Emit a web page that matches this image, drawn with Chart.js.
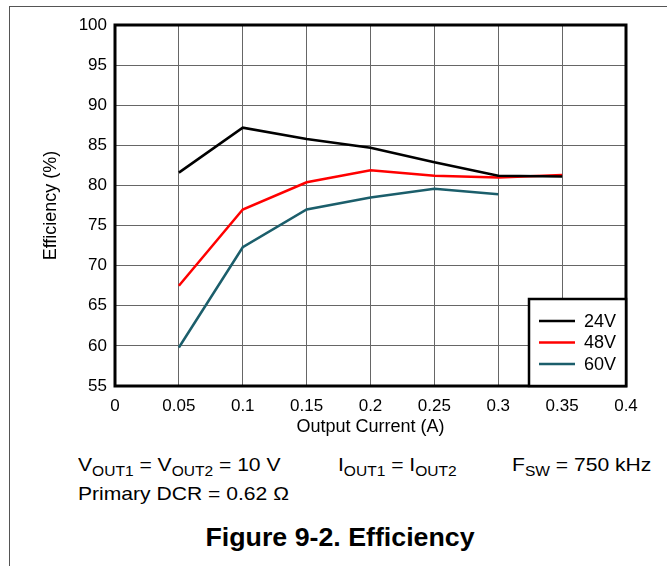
<!DOCTYPE html>
<html>
<head>
<meta charset="utf-8">
<script src="https://cdn.jsdelivr.net/npm/chart.js@4"></script>
<style>
  html, body { margin: 0; padding: 0; background: #fff; }
  body { width: 667px; height: 566px; position: relative; overflow: hidden;
         font-family: "Liberation Sans", Arial, sans-serif; color: #000; }
  #frame { position: absolute; left: 9px; top: 6px; right: -2px; bottom: -2px;
           border-top: 1px solid #555; border-left: 1px solid #555; }
  #wrap { position: absolute; left: 0; top: 0; width: 667px; height: 440px; }
  .note { position: absolute; font-size: 19px; line-height: 22px; white-space: nowrap;
          transform: scaleX(1.11); transform-origin: left center; }
  .note sub { font-size: 14px; vertical-align: -5px; line-height: 0; }
  #caption { position: absolute; left: 0; width: 680px; top: 522px; text-align: center;
             font-weight: bold; font-size: 25px; line-height: 30px;
             transform: scaleX(1.07); transform-origin: 340px center; }
</style>
</head>
<body>
<div id="frame"></div>
<div id="wrap"><canvas id="effChart"></canvas></div>
<div class="note" style="left:78px; top:454px;">V<sub>OUT1</sub> = V<sub>OUT2</sub> = 10 V</div>
<div class="note" style="left:338px; top:454px;">I<sub>OUT1</sub> = I<sub>OUT2</sub></div>
<div class="note" style="left:512px; top:454px;">F<sub>SW</sub> = 750 kHz</div>
<div class="note" style="left:78px; top:483px;">Primary DCR = 0.62 Ω</div>
<div id="caption">Figure 9-2. Efficiency</div>

<script>
document.addEventListener("DOMContentLoaded", () => {
  const currents = [0.05, 0.1, 0.15, 0.2, 0.25, 0.3, 0.35];
  const eff24 = [81.6, 87.2, 85.8, 84.7, 82.9, 81.2, 81.1];
  const eff48 = [67.5, 77.0, 80.4, 81.9, 81.2, 81.0, 81.3];
  const eff60 = [59.8, 72.3, 77.0, 78.5, 79.6, 78.9];

  const seriesNames = ["24V", "48V", "60V"];
  const seriesColors = ["#000000", "#ff0000", "#1b5e6b"];

  const xTickLabels = ["0", "0.05", "0.1", "0.15", "0.2", "0.25", "0.3", "0.35", "0.4"];
  const yTickLabels = ["55", "60", "65", "70", "75", "80", "85", "90", "95", "100"];

  const toPoints = (ys) => ys.map((y, i) => ({ x: currents[i], y }));

  // frame around the plot plus the boxed legend in the lower right
  const frameAndLegend = {
    id: "frameAndLegend",
    afterDatasetsDraw(chart) {
      const { ctx, chartArea: a } = chart;
      ctx.save();
      ctx.strokeStyle = "#000";
      ctx.lineWidth = 3;
      ctx.strokeRect(a.left, a.top, a.right - a.left, a.bottom - a.top);

      const bx = 529, by = 299, bw = a.right - 529, bh = a.bottom - 299;
      ctx.fillStyle = "#fff";
      ctx.fillRect(bx, by, bw, bh);
      ctx.lineWidth = 2.5;
      ctx.strokeRect(bx, by, bw, bh);

      ctx.font = "18px 'Liberation Sans', Arial, sans-serif";
      ctx.textBaseline = "middle";
      ctx.textAlign = "left";
      chart.data.datasets.forEach((ds, i) => {
        const y = by + 22 + i * 21.5;
        ctx.strokeStyle = ds.borderColor;
        ctx.lineWidth = 2.5;
        ctx.beginPath();
        ctx.moveTo(bx + 10, y);
        ctx.lineTo(bx + 46, y);
        ctx.stroke();
        ctx.fillStyle = "#000";
        ctx.fillText(ds.label, bx + 55, y + 1);
      });
      ctx.restore();
    }
  };

  new Chart(document.getElementById("effChart"), {
    type: "line",
    data: {
      datasets: [eff24, eff48, eff60].map((ys, i) => ({
        label: seriesNames[i],
        data: toPoints(ys),
        borderColor: seriesColors[i],
        backgroundColor: seriesColors[i],
        borderWidth: 2.5,
        pointRadius: 0,
        tension: 0,
        fill: false
      }))
    },
    plugins: [frameAndLegend],
    options: {
      responsive: true,
      maintainAspectRatio: false,
      animation: false,
      layout: { padding: { left: 0, top: 25, right: 41, bottom: 0 } },
      plugins: {
        legend: { display: false },
        tooltip: { enabled: false }
      },
      scales: {
        x: {
          type: "linear",
          min: 0,
          max: 0.4,
          afterFit: (s) => { s.height = 54; },
          afterBuildTicks: (s) => {
            s.ticks = xTickLabels.map((t) => ({ value: parseFloat(t) }));
          },
          ticks: {
            color: "#000",
            padding: 10,
            maxRotation: 0,
            autoSkip: false,
            font: { size: 17, family: "'Liberation Sans', Arial, sans-serif" },
            callback: (v, i) => xTickLabels[i]
          },
          grid: { color: "#666", lineWidth: 1, drawTicks: false },
          border: { display: false },
          title: {
            display: true,
            text: "Output Current (A)",
            color: "#000",
            padding: { top: 0, bottom: 2 },
            font: { size: 18, family: "'Liberation Sans', Arial, sans-serif" }
          }
        },
        y: {
          type: "linear",
          min: 55,
          max: 100,
          afterFit: (s) => { s.width = 115; },
          afterBuildTicks: (s) => {
            s.ticks = yTickLabels.map((t) => ({ value: parseFloat(t) }));
          },
          ticks: {
            color: "#000",
            padding: 8,
            autoSkip: false,
            font: { size: 17, family: "'Liberation Sans', Arial, sans-serif" },
            callback: (v, i) => yTickLabels[i]
          },
          grid: { color: "#666", lineWidth: 1, drawTicks: false },
          border: { display: false },
          title: {
            display: true,
            text: "Efficiency (%)",
            color: "#000",
            padding: { top: 40, bottom: 0 },
            font: { size: 18, family: "'Liberation Sans', Arial, sans-serif" }
          }
        }
      }
    }
  });
});
</script>
</body>
</html>
